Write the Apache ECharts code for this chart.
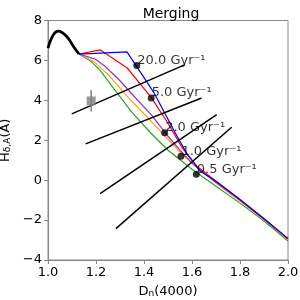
<!DOCTYPE html>
<html><head><meta charset="utf-8">
<script src="https://cdn.jsdelivr.net/npm/echarts@6/dist/echarts.min.js"></script>
<style>html,body{margin:0;padding:0;background:#fff}#c{width:300px;height:300px}</style>
</head><body><div id="c"></div><script>
const xTicks = [1.0, 1.2, 1.4, 1.6, 1.8, 2.0];
const yTicks = [-4, -2, 0, 2, 4, 6, 8];
const blackCurve = [[1.0,6.62],[1.022,7.28],[1.043,7.47],[1.078,7.2],[1.106,6.7],[1.129,6.32]];
const blueCurve = [[1.129,6.32],[1.329,6.43],[1.442,4.37],[1.53,2.37],[1.58,1.3],[1.635,0.45],[1.7,-0.05],[1.8,-0.97],[1.9,-1.93],[2.0,-2.93]];
const redCurve = [[1.129,6.32],[1.217,6.53],[1.33,5.62],[1.43,4.15],[1.5,2.85],[1.56,1.6],[1.62,0.7],[1.7,-0.05],[1.8,-0.98],[1.9,-1.93],[2.0,-2.93]];
const purpleCurve = [[1.129,6.32],[1.2,6.05],[1.24,5.68],[1.3,4.98],[1.36,4.18],[1.43,3.28],[1.5,2.2],[1.55,1.5],[1.6,0.85],[1.7,-0.1],[1.8,-1.0],[1.9,-1.95],[2.0,-2.93]];
const orangeCurve = [[1.129,6.32],[1.19,5.95],[1.25,5.3],[1.33,4.2],[1.43,2.95],[1.5,2.05],[1.56,1.3],[1.62,0.65],[1.7,-0.15],[1.8,-1.05],[1.9,-1.98],[2.0,-2.97]];
const greenCurve = [[1.129,6.32],[1.18,5.95],[1.217,5.5],[1.286,4.4],[1.35,3.4],[1.425,2.4],[1.5,1.5],[1.6,0.55],[1.7,-0.3],[1.8,-1.15],[1.9,-2.05],[2.0,-3.05]];
const rateLabels = ['20.0', '5.0', '2.0', '1.0', '0.5'];
const rateX = [1.37, 1.43, 1.486, 1.554, 1.618];
const rateY = [5.75, 4.12, 2.37, 1.2, 0.3];
const vectorLines = [
  [[1.099,3.32],[1.571,5.79]],
  [[1.157,1.82],[1.640,4.12]],
  [[1.217,-0.68],[1.703,3.28]],
  [[1.283,-2.43],[1.765,2.65]]
];
const obsX = [1.18];
const obsY = [3.97];
const obsErr = [0.53];

const FONT = 'DejaVu Sans';
const chart = echarts.init(document.getElementById('c'), null, {renderer: 'canvas'});
const series = [];
function lineSeries(data, color, width) {
  return {type: 'line', data: data, showSymbol: false, symbol: 'none', smooth: false,
    lineStyle: {color: color, width: width}, animation: false, silent: true, z: 3};
}
series.push(lineSeries(greenCurve, '#2ca02c', 1.2));
series.push(lineSeries(orangeCurve, '#ffa500', 1.2));
series.push(lineSeries(purpleCurve, '#9b30c8', 1.2));
series.push(lineSeries(redCurve, '#ff0000', 1.2));
series.push(lineSeries(blueCurve, '#0000ff', 1.2));
const bc = lineSeries(blackCurve, '#000000', 2.8); bc.smooth = 0.4;
series.push(bc);
vectorLines.forEach(v => series.push(lineSeries(v, '#000000', 1.5)));
obsX.forEach((x, i) => {
  series.push(lineSeries([[x, obsY[i] - obsErr[i]], [x, obsY[i] + obsErr[i]]], '#808080', 1.5));
});
series.push({type: 'scatter', data: obsX.map((x, i) => [x, obsY[i]]), symbol: 'rect', symbolSize: 9,
  itemStyle: {color: '#808080'}, animation: false, silent: true, z: 4});
series.push({type: 'scatter', data: rateX.map((x, i) => [x, rateY[i], rateLabels[i]]), symbol: 'circle', symbolSize: 7,
  itemStyle: {color: '#000000'}, animation: false, silent: true, z: 5,
  label: {show: true, position: 'right', distance: 0, offset: [-3, -5], fontFamily: FONT, fontSize: 13, color: '#000',
    formatter: p => p.data[2] + ' Gyr\u207b\u00b9'}});

chart.setOption({
  animation: false,
  title: {text: 'Merging', left: 166, top: 2, textAlign: 'center',
    textStyle: {fontFamily: FONT, fontSize: 14, fontWeight: 'normal', color: '#000'}},
  grid: {left: 48, right: 12, top: 20.5, bottom: 40, show: true, borderColor: '#888', borderWidth: 1,
    containLabel: false, outerBoundsMode: 'none'},
  xAxis: {type: 'value', min: 1.0, max: 2.0, interval: 0.2,
    axisLine: {show: true, onZero: false, lineStyle: {color: '#888'}},
    axisTick: {show: true, inside: false, length: 4, lineStyle: {color: '#888'}},
    splitLine: {show: false},
    axisLabel: {fontFamily: FONT, fontSize: 13, color: '#000', margin: 6, formatter: v => v.toFixed(1)},
    name: '{a|D}{s|n}{a|(4000)}', nameLocation: 'middle', nameGap: 22,
    nameTextStyle: {rich: {a: {fontFamily: FONT, fontSize: 13, color: '#000', verticalAlign: 'bottom', lineHeight: 16},
      s: {fontFamily: FONT, fontSize: 9, color: '#000', verticalAlign: 'bottom', lineHeight: 12}}}},
  yAxis: {type: 'value', min: -4, max: 8, interval: 2,
    axisLine: {show: true, onZero: false, lineStyle: {color: '#888'}},
    axisTick: {show: true, inside: false, length: 4, lineStyle: {color: '#888'}},
    splitLine: {show: false},
    axisLabel: {fontFamily: FONT, fontSize: 13, color: '#000', margin: 6, formatter: v => String(v).replace('-', '\u2212')},
    name: '{a|H}{s|\u03b4,A}{a|(\u00c5)}', nameLocation: 'middle', nameGap: 27, nameRotate: 90,
    nameTextStyle: {rich: {a: {fontFamily: FONT, fontSize: 13, color: '#000', verticalAlign: 'bottom', lineHeight: 16},
      s: {fontFamily: FONT, fontSize: 9, color: '#000', verticalAlign: 'bottom', lineHeight: 12}}}},
  series: series
});
</script></body></html>
